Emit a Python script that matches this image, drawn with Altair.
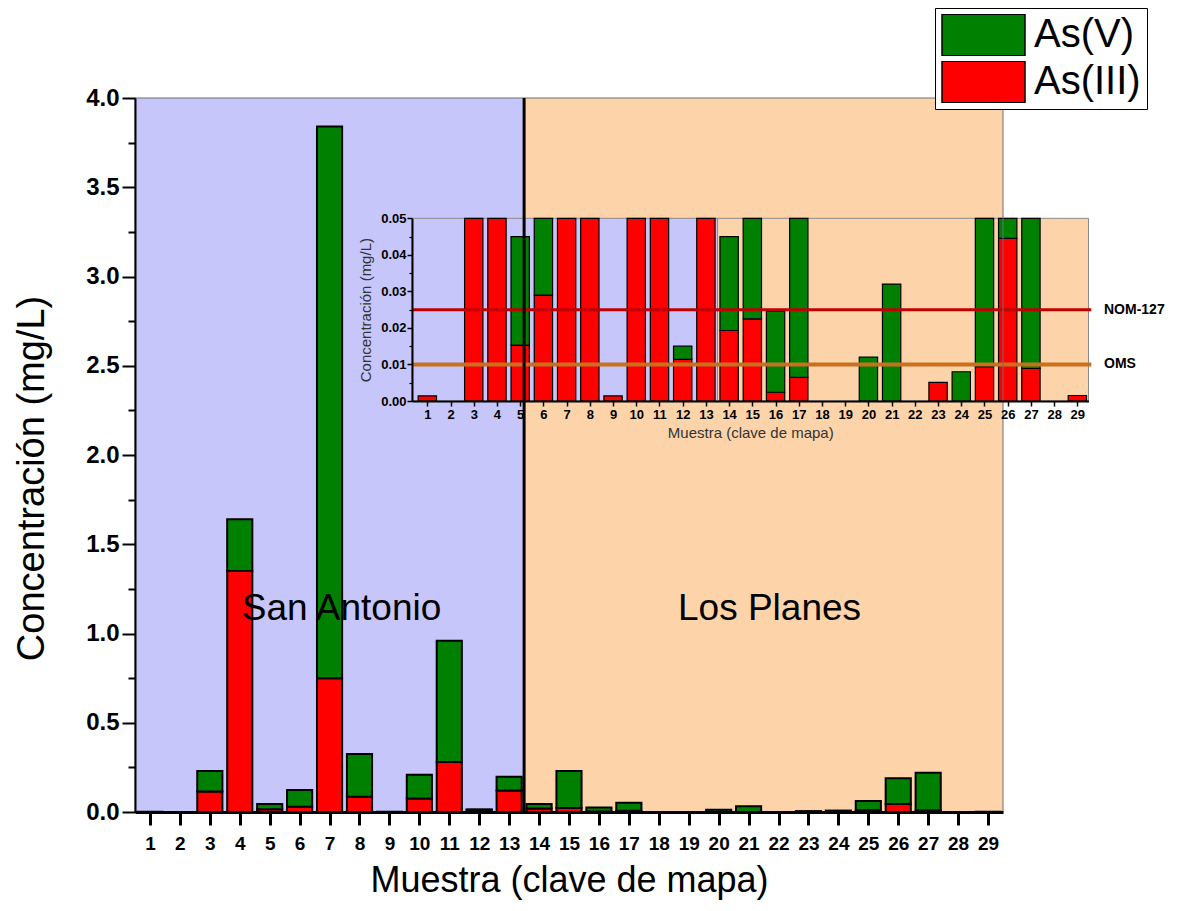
import altair as alt
import pandas as pd

# ---------------- data ----------------
samples = list(range(1, 30))
as_iii = [0.0014, 0.0, 0.115, 1.35, 0.0153, 0.029, 0.75, 0.086, 0.0014, 0.075,
          0.28, 0.0114, 0.12, 0.0193, 0.0225, 0.0024, 0.0065, 0.0, 0.0, 0.0,
          0.0, 0.0, 0.0051, 0.0, 0.0094, 0.0445, 0.0089, 0.0, 0.0015]
as_v = [0.0, 0.0, 0.115, 0.29, 0.0297, 0.094, 3.09, 0.239, 0.0, 0.134,
        0.68, 0.0036, 0.078, 0.0257, 0.2075, 0.0222, 0.0455, 0.0, 0.0, 0.012,
        0.032, 0.0, 0.0, 0.008, 0.0526, 0.1445, 0.2111, 0.0, 0.0]
species = ["As(V)", "As(III)"]
species_colors = ["#008000", "#ff0000"]

regions = ["San Antonio", "Los Planes"]
region_start = [0.5, 13.5]
region_end = [13.5, 29.5]
region_label_x = [7.4, 21.7]
region_label_y = [1.14, 1.14]
region_colors = ["#c6c6fa", "#fdd4aa"]

limit_names = ["NOM-127", "OMS"]
limit_values = [0.025, 0.01]
limit_colors = ["#c00000", "#c8701e"]
limit_widths = [3, 4]

main_y_ticks = [0.0, 0.5, 1.0, 1.5, 2.0, 2.5, 3.0, 3.5, 4.0]
main_y_minor = [0.25, 0.75, 1.25, 1.75, 2.25, 2.75, 3.25, 3.75]
inset_y_ticks = [0.0, 0.01, 0.02, 0.03, 0.04, 0.05]
inset_y_minor = [0.005, 0.015, 0.025, 0.035, 0.045]

# ---------------- tables ----------------
rows = []
for s, a3, a5 in zip(samples, as_iii, as_v):
    rows.append({"Sample": s, "Especie": "As(III)", "lo": 0.0, "hi": a3})
    rows.append({"Sample": s, "Especie": "As(V)", "lo": a3, "hi": a3 + a5})
bar_df = pd.DataFrame(rows)
bar_df = bar_df[bar_df["hi"] > bar_df["lo"]]

reg_df = pd.DataFrame({"name": regions, "start": region_start, "end": region_end,
                       "lx": region_label_x, "ly": region_label_y})
lim_df = pd.DataFrame({"name": limit_names, "value": limit_values})
one_df = pd.DataFrame({"a": [0]})

FONT = "Liberation Sans"
W, H = 868, 714

MX = alt.Scale(domain=[0.5, 29.5], nice=False, zero=False)
MY = alt.Scale(domain=[0, 4], nice=False, zero=False)
IX0, IX1 = 0.34, 29.48
IX = alt.Scale(domain=[IX0, IX1], range=[277, 953.5], nice=False, zero=False)
IY = alt.Scale(domain=[0, 0.05], range=[303, 120.3], nice=False, zero=False)

fill_scale = alt.Scale(domain=regions, range=region_colors)
color_scale = alt.Scale(domain=species, range=species_colors)

# ---------------- main chart ----------------
main_bg = alt.Chart(reg_df).mark_rect().encode(
    x=alt.X("start:Q", scale=MX, axis=None),
    x2="end:Q",
    y=alt.value(0),
    y2=alt.value(H),
    fill=alt.Fill("name:N", scale=fill_scale, legend=None),
)

main_bars = alt.Chart(bar_df).transform_calculate(
    xl="datum.Sample - 0.42", xr="datum.Sample + 0.42"
).mark_rect(stroke="black", strokeWidth=2).encode(
    x=alt.X("xl:Q", scale=MX, axis=alt.Axis(
        values=samples, title="Muestra (clave de mapa)", orient="bottom",
        labelFontSize=19, labelFontWeight="bold", labelColor="black",
        labelPadding=9, labelFlush=False, labelOverlap=False,
        tickSize=13, tickWidth=3, tickColor="black",
        domainWidth=3, domainColor="black", grid=False,
        titleFontSize=36, titleFontWeight="normal", titleColor="black",
        titlePadding=10, zindex=1)),
    x2="xr:Q",
    y=alt.Y("lo:Q", scale=MY, axis=alt.Axis(
        values=main_y_ticks, format=".1f", title="Concentración (mg/L)", orient="left",
        labelFontSize=24, labelFontWeight="bold", labelColor="black",
        labelPadding=3, labelFlush=False, labelOverlap=False,
        tickSize=13, tickWidth=2, tickColor="black",
        domainWidth=2, domainColor="black", grid=False,
        titleFontSize=38, titleFontWeight="normal", titleColor="black",
        titleX=-103, titleY=380, titleAngle=270, titleAlign="center",
        titleBaseline="middle", zindex=1)),
    y2="hi:Q",
    color=alt.Color("Especie:N", scale=color_scale, legend=alt.Legend(
        title=None, orient="none", legendX=800, legendY=-90, direction="vertical",
        symbolType="M-1,-0.5H1V0.5H-1Z", symbolSize=6889,
        symbolStrokeColor="black", symbolStrokeWidth=1.5, symbolOpacity=1,
        clipHeight=42,
        labelFontSize=40, labelFont=FONT, labelColor="black", labelOffset=8,
        labelLimit=400, rowPadding=5, padding=6,
        fillColor="white", strokeColor="black")),
)

main_minor = alt.Chart(pd.DataFrame({"v": main_y_minor})).mark_point(opacity=0).encode(
    x=alt.value(0),
    y=alt.Y("v:Q", scale=MY, axis=alt.Axis(
        values=main_y_minor, labels=False, title=None, orient="left", domain=False,
        tickSize=7, tickWidth=2, tickColor="black", grid=False, zindex=1)),
)

region_text = alt.Chart(reg_df).mark_text(fontSize=37, color="black", font=FONT).encode(
    x=alt.X("lx:Q", scale=MX, axis=None),
    y=alt.Y("ly:Q", scale=MY, axis=None),
    text="name:N",
)

# ---------------- inset ----------------
inset_bg = alt.Chart(reg_df).transform_calculate(
    s2=f"datum.start <= 0.5 ? {IX0} : datum.start",
    e2=f"datum.end >= 29.5 ? {IX1} : datum.end",
).mark_rect(stroke="#8a8a8a", strokeWidth=1).encode(
    x=alt.X("s2:Q", scale=IX, axis=None),
    x2="e2:Q",
    y=alt.Y(datum=0.0, type="quantitative", scale=IY, axis=None),
    y2=alt.Y2(datum=0.05),
    fill=alt.Fill("name:N", scale=fill_scale, legend=None),
)

inset_bars = alt.Chart(bar_df).transform_calculate(
    ilo="min(datum.lo, 0.05)", ihi="min(datum.hi, 0.05)",
    xl="datum.Sample - 0.395", xr="datum.Sample + 0.395",
).transform_filter("datum.ihi > datum.ilo").mark_rect(stroke="black", strokeWidth=1.2).encode(
    x=alt.X("xl:Q", scale=IX, axis=alt.Axis(
        values=samples, title="Muestra (clave de mapa)", orient="bottom", offset=-411,
        labelFontSize=13, labelFontWeight="bold", labelColor="black",
        labelPadding=2, labelFlush=False, labelOverlap=False,
        tickSize=5, tickWidth=1.5, tickColor="black",
        domainWidth=2, domainColor="black", grid=False,
        titleFontSize=15, titleFontWeight="normal", titleColor="#333333",
        titlePadding=4, zindex=1)),
    x2="xr:Q",
    y=alt.Y("ilo:Q", scale=IY, axis=alt.Axis(
        values=inset_y_ticks, format=".2f", title="Concentración (mg/L)", orient="left",
        offset=-277,
        labelFontSize=13, labelFontWeight="bold", labelColor="black",
        labelPadding=1, labelFlush=False, labelOverlap=False,
        tickSize=5, tickWidth=1.5, tickColor="black",
        domainWidth=2, domainColor="black", grid=False,
        titleFontSize=15, titleFontWeight="normal", titleColor="#333333",
        titlePadding=7, zindex=1)),
    y2="ihi:Q",
    color=alt.Color("Especie:N", scale=color_scale, legend=None),
)

inset_minor = alt.Chart(pd.DataFrame({"v": inset_y_minor})).mark_point(opacity=0).encode(
    x=alt.value(0),
    y=alt.Y("v:Q", scale=IY, axis=alt.Axis(
        values=inset_y_minor, labels=False, title=None, orient="left", offset=-277,
        domain=False, tickSize=3, tickWidth=1.2, tickColor="black", grid=False, zindex=1)),
)

limit_rules = alt.Chart(lim_df).mark_rule().encode(
    x=alt.X(datum=IX0, type="quantitative", scale=IX, axis=None),
    x2=alt.X2(datum=29.6),
    y=alt.Y("value:Q", scale=IY, axis=None),
    stroke=alt.Stroke("name:N", scale=alt.Scale(domain=limit_names, range=limit_colors), legend=None),
    strokeWidth=alt.StrokeWidth("name:N", scale=alt.Scale(domain=limit_names, range=limit_widths), legend=None),
)

limit_text = alt.Chart(lim_df).mark_text(
    align="left", baseline="middle", fontSize=14, fontWeight="bold", color="black", font=FONT
).encode(
    x=alt.value(969),
    y=alt.Y("value:Q", scale=IY, axis=None),
    text="name:N",
)

# ---------------- overlays on top ----------------
divider = alt.Chart(one_df).mark_rule(color="black", strokeWidth=3).encode(
    x=alt.X(datum=13.5, type="quantitative", scale=MX, axis=None),
    y=alt.value(0),
    y2=alt.value(H),
)

frame = alt.Chart(one_df).mark_rect(filled=False, stroke="#6e6e6e", strokeWidth=1).encode(
    x=alt.value(0), x2=alt.value(W), y=alt.value(0), y2=alt.value(H),
)

chart = alt.layer(
    main_bg, main_bars, main_minor, region_text,
    inset_bg, inset_bars, inset_minor, limit_rules, limit_text,
    frame, divider,
).resolve_scale(
    x="independent", y="independent"
).resolve_axis(
    x="independent", y="independent"
).resolve_legend(
    color="independent"
).properties(
    width=W, height=H,
    autosize=alt.AutoSizeParams(type="none"),
    padding={"left": 127, "top": 90, "right": 164, "bottom": 89},
).configure(
    font=FONT
).configure_view(
    stroke=None
)

chart.save("out.html", embed_options={"renderer": "svg", "actions": False})
